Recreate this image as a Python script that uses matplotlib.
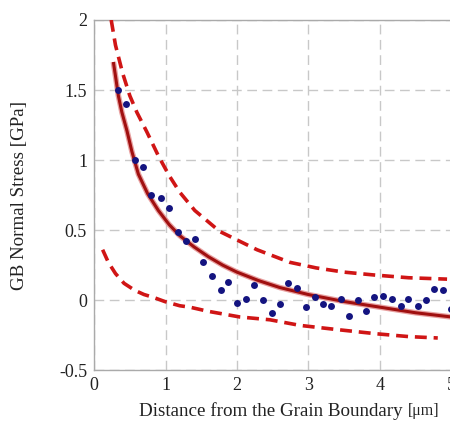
import matplotlib
matplotlib.use("Agg")
import matplotlib.pyplot as plt

plt.rcParams["font.family"] = ["Liberation Serif", "DejaVu Serif"]

# measured points
dist = [0.33, 0.45, 0.57, 0.69, 0.80, 0.93, 1.05, 1.17, 1.29, 1.41, 1.53, 1.65,
        1.77, 1.88, 2.00, 2.12, 2.24, 2.37, 2.49, 2.60, 2.72, 2.84, 2.96, 3.09,
        3.21, 3.32, 3.45, 3.57, 3.69, 3.81, 3.92, 4.04, 4.17, 4.29, 4.40, 4.53,
        4.64, 4.76, 4.89, 5.00]
stress = [1.50, 1.40, 1.00, 0.95, 0.75, 0.73, 0.66, 0.49, 0.42, 0.44, 0.27, 0.17,
          0.07, 0.13, -0.02, 0.01, 0.11, 0.00, -0.09, -0.03, 0.12, 0.09, -0.05, 0.02,
          -0.03, -0.04, 0.01, -0.11, 0.00, -0.08, 0.02, 0.03, 0.01, -0.04, 0.01, -0.04,
          0.00, 0.08, 0.07, -0.06]

# fitted curve
fit_x = [0.27, 0.30, 0.34, 0.39, 0.46, 0.53, 0.62, 0.75, 0.90, 1.05, 1.20, 1.40,
         1.60, 1.80, 2.00, 2.30, 2.60, 3.00, 3.50, 4.00, 4.50, 5.00]
fit_y = [1.70, 1.60, 1.46, 1.34, 1.21, 1.06, 0.90, 0.76, 0.64, 0.54, 0.46, 0.38,
         0.31, 0.25, 0.20, 0.14, 0.09, 0.04, -0.01, -0.05, -0.09, -0.12]

# upper / lower bounds
up_x = [0.24, 0.30, 0.40, 0.50, 0.60, 0.74, 0.90, 1.05, 1.20, 1.41, 1.76, 2.28,
        2.74, 3.11, 3.50, 3.91, 4.40, 4.94]
up_y = [2.00, 1.82, 1.62, 1.46, 1.34, 1.20, 1.03, 0.89, 0.77, 0.64, 0.49, 0.36,
        0.27, 0.23, 0.20, 0.18, 0.16, 0.15]
lo_x = [0.12, 0.20, 0.30, 0.42, 0.57, 0.70, 0.83, 0.99, 1.20, 1.34, 1.60, 2.04,
        2.46, 2.88, 3.40, 3.95, 4.40, 4.81]
lo_y = [0.36, 0.27, 0.19, 0.12, 0.07, 0.04, 0.02, -0.01, -0.04, -0.05, -0.08, -0.12,
        -0.14, -0.18, -0.21, -0.24, -0.26, -0.27]

fig = plt.figure(figsize=(4.5, 4.34), dpi=100)
ax = fig.add_axes([0.209, 0.147, 0.794, 0.807])

dash = (0, (3.3, 1.9))
ax.plot(up_x, up_y, color="#d01515", lw=2.6, ls=dash, zorder=3)
ax.plot(lo_x, lo_y, color="#d01515", lw=2.6, ls=dash, zorder=3)
ax.plot(fit_x, fit_y, color="#e8a0a0", lw=4.0, zorder=3, solid_capstyle="butt")
ax.plot(fit_x, fit_y, color="#a01010", lw=2.2, zorder=4, solid_capstyle="butt")
ax.plot(dist, stress, "o", color="#141480", ms=5, mec="none", zorder=5)

ax.set_xlim(0, 5)
ax.set_ylim(-0.5, 2)
ax.set_xticks([0, 1, 2, 3, 4, 5])
ax.set_xticklabels(["0", "1", "2", "3", "4", "5"])
ax.set_yticks([-0.5, 0, 0.5, 1, 1.5, 2])
ax.set_yticklabels(["-0.5", "0", "0.5", "1", "1.5", "2"])
ax.tick_params(length=0, labelsize=13, colors="#222222")
ax.tick_params(axis="y", pad=5)
ax.tick_params(axis="x", pad=5)
ax.grid(True, color="#c8c8c8", ls=(0, (7, 4)), lw=1.0)
for s in ax.spines.values():
    s.set_color("#aaaaaa")
    s.set_linewidth(1.0)

ax.set_ylabel("GB Normal Stress [GPa]", fontsize=13.7, color="#222222")
ax.yaxis.set_label_coords(-0.185, 0.5)
fig.text(0.895, 0.052, "Distance from the Grain Boundary", fontsize=13.7,
         ha="right", va="center", color="#222222")
fig.text(0.906, 0.052, "[\u03bcm]", fontsize=11.5, ha="left", va="center", color="#222222")

fig.savefig("out.png", dpi=100)
